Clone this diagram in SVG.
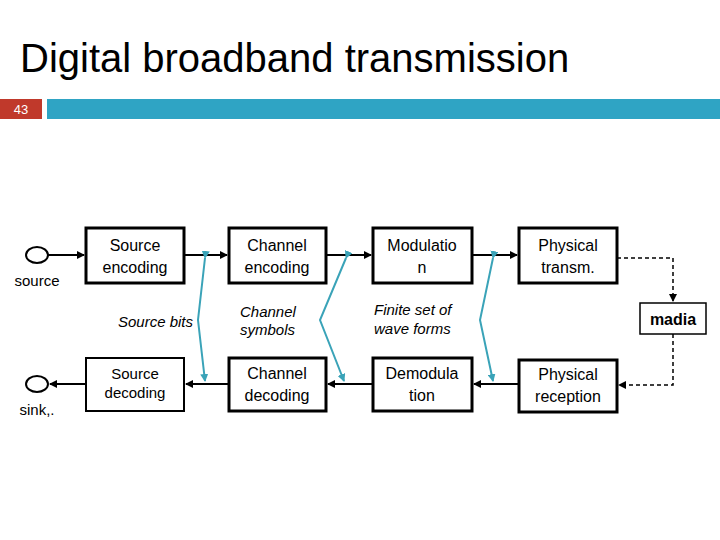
<svg xmlns="http://www.w3.org/2000/svg" width="720" height="540" viewBox="0 0 720 540">
<defs>
<style>
.t{font-family:"Liberation Sans",Arial,sans-serif;fill:#000}
.b{fill:#fff;stroke:#000;stroke-width:3}
.l{fill:none;stroke:#000;stroke-width:2}
.d{fill:none;stroke:#000;stroke-width:1.5;stroke-dasharray:4 3}
.c{fill:none;stroke:#3aa3b8;stroke-width:2}
</style>
<marker id="a" markerWidth="8" markerHeight="8" refX="7" refY="4" orient="auto" markerUnits="userSpaceOnUse"><path d="M0,0L8,4L0,8z" fill="#000"/></marker>
<marker id="ct" markerWidth="8" markerHeight="8" refX="7" refY="4" orient="auto" markerUnits="userSpaceOnUse"><path d="M0,0L8,4L0,8z" fill="#3aa3b8"/></marker>
</defs>
<rect width="720" height="540" fill="#fff"/>
<text class="t" x="20" y="72" font-size="40" fill="#333">Digital broadband transmission</text>
<rect x="0" y="99" width="42" height="20" fill="#c0392b"/>
<text class="t" x="21" y="114" font-size="13" text-anchor="middle" style="fill:#fff">43</text>
<rect x="47" y="99" width="673" height="20" fill="#2fa4c4"/>
<g id="connectors">
<path class="l" d="M48,255H84" marker-end="url(#a)"/>
<path class="l" d="M184,255H227" marker-end="url(#a)"/>
<path class="l" d="M326,255H371" marker-end="url(#a)"/>
<path class="l" d="M472,255H517" marker-end="url(#a)"/>
<path class="d" d="M617,258H673V301" marker-end="url(#a)"/>
<path class="d" d="M673,334V385H619" marker-end="url(#a)"/>
<path class="l" d="M519,384H474" marker-end="url(#a)"/>
<path class="l" d="M373,384H328" marker-end="url(#a)"/>
<path class="l" d="M229,384H186" marker-end="url(#a)"/>
<path class="l" d="M86,384H50" marker-end="url(#a)"/>
<path class="c" d="M205,258L198,320L205,381" marker-start="url(#ct)" marker-end="url(#ct)"/>
<path class="c" d="M346,258L320,320L344,381" marker-start="url(#ct)" marker-end="url(#ct)"/>
<path class="c" d="M493,258L480,320L493,381" marker-start="url(#ct)" marker-end="url(#ct)"/>
</g>
<g id="source"><ellipse cx="37" cy="255" rx="11" ry="8" class="l"/><text class="t" x="37" y="286" font-size="15" text-anchor="middle">source</text></g>
<g id="sink"><ellipse cx="37" cy="384" rx="11" ry="8" class="l"/><text class="t" x="37" y="415" font-size="15" text-anchor="middle">sink,.</text></g>
<g id="srcenc"><rect class="b" x="86" y="228" width="98" height="55"/><text class="t" font-size="16" text-anchor="middle"><tspan x="135" y="251">Source</tspan><tspan x="135" y="273">encoding</tspan></text></g>
<g id="chenc"><rect class="b" x="229" y="228" width="97" height="55"/><text class="t" font-size="16" text-anchor="middle"><tspan x="277" y="251">Channel</tspan><tspan x="277" y="273">encoding</tspan></text></g>
<g id="mod"><rect class="b" x="373" y="228" width="99" height="55"/><text class="t" font-size="16" text-anchor="middle"><tspan x="422" y="251">Modulatio</tspan><tspan x="422" y="273">n</tspan></text></g>
<g id="ptx"><rect class="b" x="519" y="228" width="98" height="55"/><text class="t" font-size="16" text-anchor="middle"><tspan x="568" y="251">Physical</tspan><tspan x="568" y="273">transm.</tspan></text></g>
<g id="srcdec"><rect x="86" y="358" width="98" height="53" fill="#fff" stroke="#000" stroke-width="2"/><text class="t" font-size="15" text-anchor="middle"><tspan x="135" y="379">Source</tspan><tspan x="135" y="398">decoding</tspan></text></g>
<g id="chdec"><rect class="b" x="229" y="358" width="97" height="53"/><text class="t" font-size="16" text-anchor="middle"><tspan x="277" y="379">Channel</tspan><tspan x="277" y="401">decoding</tspan></text></g>
<g id="demod"><rect class="b" x="373" y="358" width="99" height="53"/><text class="t" font-size="16" text-anchor="middle"><tspan x="422" y="379">Demodula</tspan><tspan x="422" y="401">tion</tspan></text></g>
<g id="prx"><rect class="b" x="519" y="360" width="98" height="52"/><text class="t" font-size="16" text-anchor="middle"><tspan x="568" y="380">Physical</tspan><tspan x="568" y="402">reception</tspan></text></g>
<g id="madia"><rect x="640" y="303" width="66" height="31" fill="#fff" stroke="#000" stroke-width="1.5"/><text class="t" x="673" y="325" font-size="16" font-weight="bold" text-anchor="middle">madia</text></g>
<g id="labels" font-style="italic">
<text class="t" x="118" y="327" font-size="15">Source bits</text>
<text class="t" font-size="15"><tspan x="240" y="317">Channel</tspan><tspan x="240" y="335">symbols</tspan></text>
<text class="t" font-size="15"><tspan x="374" y="315">Finite set of</tspan><tspan x="374" y="334">wave forms</tspan></text>
</g>
</svg>
